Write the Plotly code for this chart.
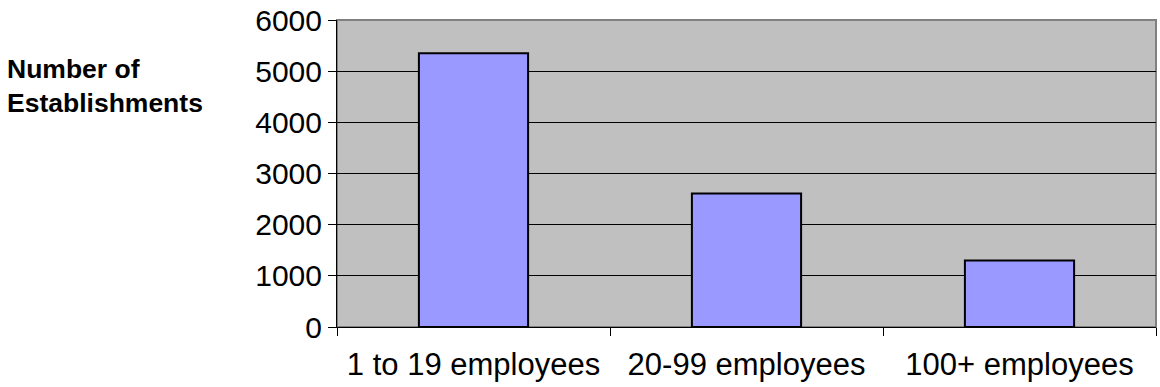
import plotly.graph_objects as go

categories = ["1 to 19 employees", "20-99 employees", "100+ employees"]
establishments = [5350, 2610, 1300]
y_ticks = [0, 1000, 2000, 3000, 4000, 5000, 6000]

fig = go.Figure()
fig.add_trace(go.Bar(
    x=categories,
    y=establishments,
    width=0.4,
    marker=dict(color="#9999FF", line=dict(color="black", width=2)),
))

# grey frame around the plotting area
fig.add_shape(type="rect", xref="paper", yref="paper", x0=0, x1=1, y0=0, y1=1,
              line=dict(color="#808080", width=2), layer="below")

fig.add_annotation(text="<b>Number of<br>Establishments</b>", xref="paper", yref="paper",
                   x=-0.405, y=0.785, xanchor="left", yanchor="middle", align="left",
                   showarrow=False, font=dict(size=26.5, color="black", family="Liberation Sans, Arial"))

fig.update_layout(
    width=1160, height=387,
    margin=dict(l=337, r=4, t=20, b=60),
    paper_bgcolor="white",
    plot_bgcolor="#C0C0C0",
    showlegend=False,
    bargap=0.6,
    font=dict(family="Liberation Sans, Arial", size=30, color="black"),
    xaxis=dict(
        tickson="boundaries", ticks="outside", ticklen=8, tickcolor="black",
        showline=True, linecolor="black", linewidth=1, showgrid=False,
        tickfont=dict(size=31), ticklabelstandoff=10,
    ),
    yaxis=dict(
        range=[0, 6000], tickvals=y_ticks, ticks="outside", ticklen=8, tickcolor="black",
        showline=True, linecolor="black", linewidth=1,
        showgrid=True, gridcolor="black", gridwidth=1, zeroline=False,
        tickfont=dict(size=30),
    ),
)

fig.write_html("out.html")
